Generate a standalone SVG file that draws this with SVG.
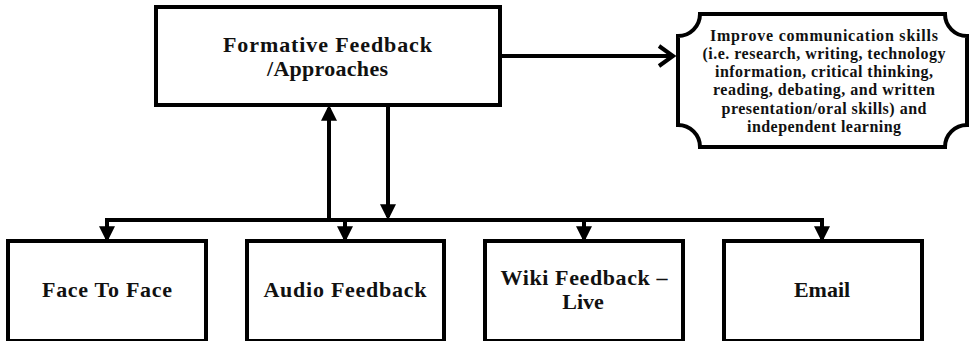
<svg xmlns="http://www.w3.org/2000/svg" width="971" height="341" viewBox="0 0 971 341">
<defs>
<style>
.box{fill:#fff;stroke:#000;stroke-width:4}
.ln{fill:none;stroke:#000;stroke-width:4}
.t{font-family:"Liberation Serif","Times New Roman",serif;font-weight:bold;fill:#111;text-anchor:middle}
.big{font-size:22px}
.sm{font-size:16px}
</style>
<marker id="ah" markerWidth="4" markerHeight="4" refX="3.2" refY="2" orient="auto" markerUnits="strokeWidth">
<path d="M0,0 L4,2 L0,4 Z" fill="#000"/>
</marker>
<marker id="open" markerWidth="5" markerHeight="6" refX="4" refY="3" orient="auto" markerUnits="strokeWidth">
<path d="M0.5,0.5 L4,3 L0.5,5.5" fill="none" stroke="#000" stroke-width="1"/>
</marker>
</defs>
<rect width="971" height="341" fill="#fff"/>
<g id="connectors">
<path class="ln" d="M329,219 V108" marker-end="url(#ah)"/>
<path class="ln" d="M388,105 V217" marker-end="url(#ah)"/>
<path class="ln" d="M107,239 V220 H822 V239" marker-end="url(#ah)"/>
<path class="ln" d="M107,222 V239" marker-end="url(#ah)"/>
<path class="ln" d="M345,220 V239" marker-end="url(#ah)"/>
<path class="ln" d="M584,220 V239" marker-end="url(#ah)"/>
<path class="ln" d="M502,56 H673" marker-end="url(#open)"/>
</g>
<g id="formative">
<rect class="box" x="156" y="7" width="344" height="98"/>
<text class="t big" x="327.5" y="52" textLength="209" lengthAdjust="spacing">Formative Feedback</text>
<text class="t big" x="327.5" y="76" textLength="121" lengthAdjust="spacing">/Approaches</text>
</g>
<g id="outcome">
<path class="box" d="M700,14 H945 A22 22 0 0 0 967,36 V125 A22 22 0 0 0 945,147 H700 A22 22 0 0 0 678,125 V36 A22 22 0 0 0 700,14 Z"/>
<text class="t sm" x="824" y="41" textLength="228" lengthAdjust="spacing">Improve communication skills</text>
<text class="t sm" x="824" y="59" textLength="243" lengthAdjust="spacing">(i.e. research, writing, technology</text>
<text class="t sm" x="824" y="77" textLength="218" lengthAdjust="spacing">information, critical thinking,</text>
<text class="t sm" x="824" y="95" textLength="222" lengthAdjust="spacing">reading, debating, and written</text>
<text class="t sm" x="824" y="114" textLength="205" lengthAdjust="spacing">presentation/oral skills) and</text>
<text class="t sm" x="824" y="132" textLength="154" lengthAdjust="spacing">independent learning</text>
</g>
<g id="face">
<rect class="box" x="8" y="241" width="198" height="100"/>
<text class="t big" x="107" y="297" textLength="130" lengthAdjust="spacing">Face To Face</text>
</g>
<g id="audio">
<rect class="box" x="247" y="241" width="197" height="100"/>
<text class="t big" x="345" y="297" textLength="163" lengthAdjust="spacing">Audio Feedback</text>
</g>
<g id="wiki">
<rect class="box" x="485" y="241" width="198" height="100"/>
<text class="t big" x="584" y="285" textLength="167" lengthAdjust="spacing">Wiki Feedback –</text>
<text class="t big" x="583" y="309">Live</text>
</g>
<g id="email">
<rect class="box" x="724" y="241" width="198" height="100"/>
<text class="t big" x="822" y="297">Email</text>
</g>
</svg>
